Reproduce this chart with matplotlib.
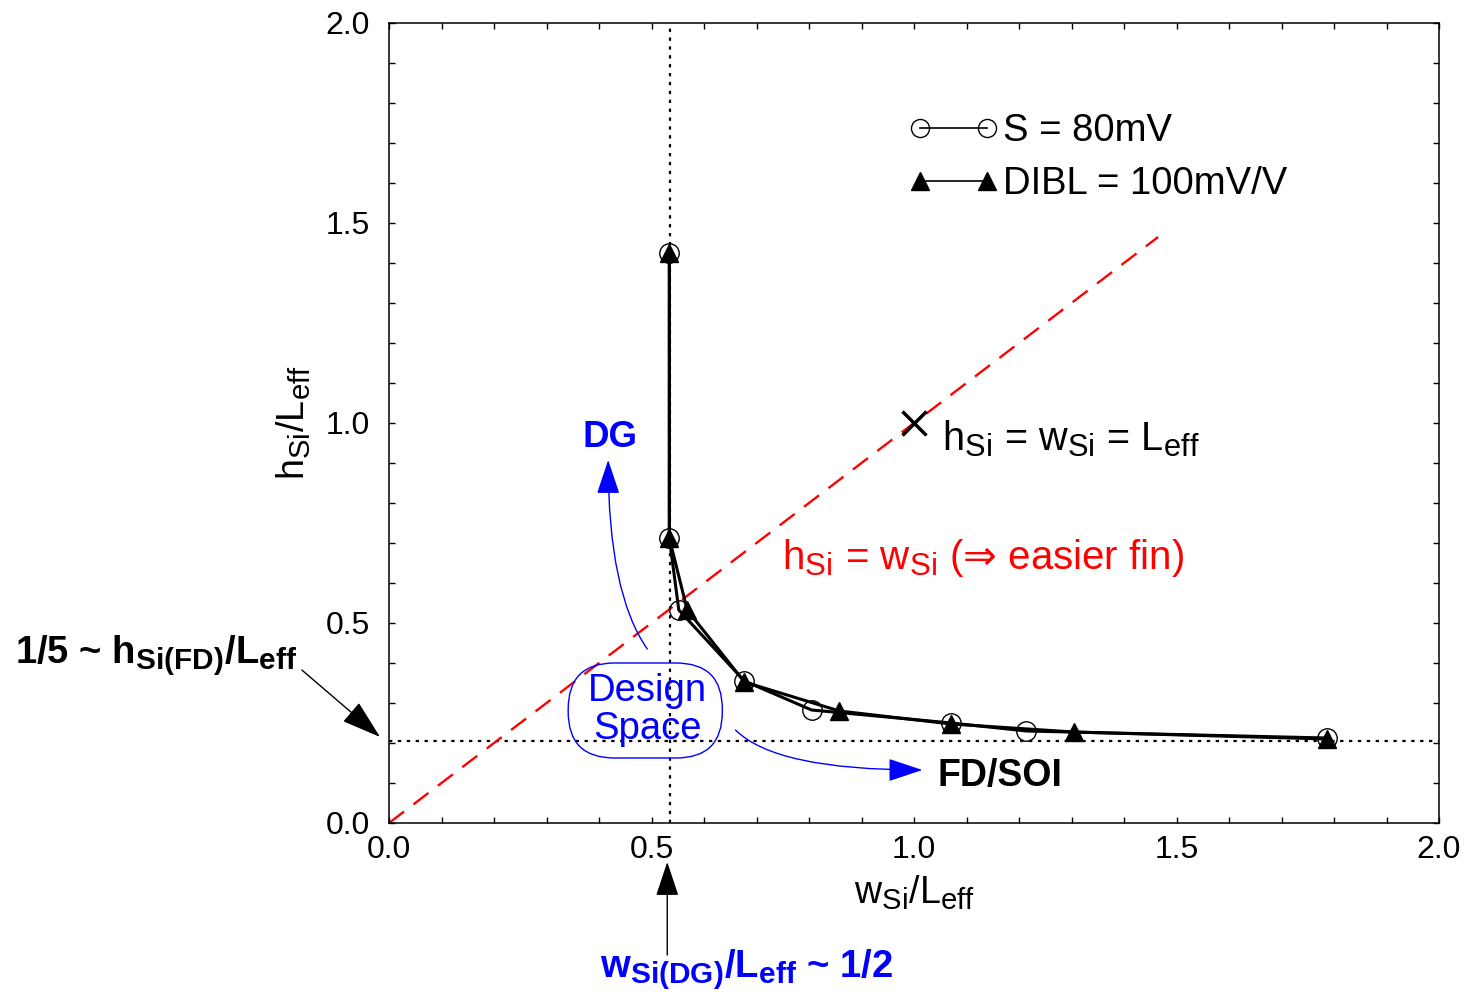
import matplotlib
matplotlib.use("Agg")
import matplotlib.pyplot as plt
import matplotlib._mathtext as _mt
from matplotlib.lines import Line2D
from matplotlib.patches import FancyBboxPatch
from matplotlib.ticker import MultipleLocator, FormatStrFormatter

_mt.SHRINK_FACTOR = 0.78

plt.rcParams['font.family'] = ['Liberation Sans', 'DejaVu Sans']
plt.rcParams['mathtext.fontset'] = 'custom'
plt.rcParams['mathtext.rm'] = 'Liberation Sans'
plt.rcParams['mathtext.it'] = 'Liberation Sans:italic'
plt.rcParams['mathtext.bf'] = 'Liberation Sans:bold'
plt.rcParams['mathtext.sf'] = 'DejaVu Sans'

# ---- data ----
s_x = [0.534, 0.534, 0.552, 0.677, 0.805, 1.071, 1.214, 1.786]
s_y = [1.425, 0.712, 0.5325, 0.355, 0.2825, 0.25, 0.23, 0.2125]
d_x = [0.534, 0.534, 0.568, 0.677, 0.858, 1.071, 1.304, 1.786]
d_y = [1.425, 0.712, 0.5325, 0.3525, 0.28, 0.2475, 0.2275, 0.21]
equal_x = [0.0, 1.465]
equal_y = [0.0, 1.465]
wsi_dg = 0.535
hsi_fd = 0.205
cube_pt = (1.0, 1.0)

fig = plt.figure(figsize=(14.66, 9.94), dpi=100)
ax = fig.add_axes([389/1466, 1-823/994, (1439-389)/1466, 800/994])
ax.set_xlim(0, 2)
ax.set_ylim(0, 2)

# reference lines
ax.axvline(wsi_dg, color='black', lw=1.6, ls=(0, (1.5, 2.5)), zorder=1)
ax.axhline(hsi_fd, color='black', lw=1.6, ls=(0, (1.5, 2.5)), zorder=1)
ax.plot(equal_x, equal_y, color='red', lw=1.7, ls=(0, (8, 5)), zorder=1)

# series
ax.plot(s_x, s_y, color='black', lw=2.2, marker='o', ms=14, mfc='none',
        mec='black', mew=1.0, zorder=3)
ax.plot(d_x, d_y, color='black', lw=2.2, marker='^', ms=13, mfc='black',
        mec='black', zorder=4)
ax.plot([cube_pt[0]], [cube_pt[1]], marker='x', ms=17, mew=2.5, color='black',
        ls='none', zorder=4)

# legend
h1 = Line2D([], [], color='black', lw=1.2, marker='o', ms=13, mfc='none', mew=1.0)
h2 = Line2D([], [], color='black', lw=1.2, marker='^', ms=13, mfc='black')
ax.legend([h1, h2], ['S = 80mV', 'DIBL = 100mV/V'], loc='upper left',
          bbox_to_anchor=(0.495, 0.887), frameon=False, numpoints=2,
          handlelength=2.36, handletextpad=0.12, labelspacing=0.44,
          borderpad=0, borderaxespad=0, fontsize=27.5)

# ticks
ax.xaxis.set_major_locator(MultipleLocator(0.5))
ax.yaxis.set_major_locator(MultipleLocator(0.5))
ax.xaxis.set_minor_locator(MultipleLocator(0.1))
ax.yaxis.set_minor_locator(MultipleLocator(0.1))
ax.tick_params(which='both', direction='in', top=True, right=True,
               length=4.5, width=1.0)
ax.tick_params(axis='x', labelsize=23, pad=9)
ax.tick_params(axis='y', labelsize=23, pad=14)
ax.xaxis.set_major_formatter(FormatStrFormatter('%.1f'))
ax.yaxis.set_major_formatter(FormatStrFormatter('%.1f'))
for sp in ax.spines.values():
    sp.set_linewidth(1.1)

ax.set_xlabel(r'$\mathrm{w_{Si}/L_{eff}}$', fontsize=27, labelpad=6)
ax.set_ylabel(r'$\mathrm{h_{Si}/L_{eff}}$', fontsize=27, labelpad=9)

# texts
ax.text(1.054, 0.932, r'$\mathrm{h_{Si}}$ = $\mathrm{w_{Si}}$ = $\mathrm{L_{eff}}$',
        fontsize=28.5, ha='left', va='baseline')
ax.text(0.749, 0.635, r'$\mathrm{h_{Si}}$ = $\mathrm{w_{Si}}$ ($\mathsf{⇒}$ easier fin)',
        fontsize=29, color='red', ha='left', va='baseline')
ax.text(0.421, 0.94, 'DG', fontsize=26.5, fontweight='bold', color='blue',
        ha='center', va='baseline')
ax.text(1.045, 0.0925, 'FD/SOI', fontsize=27, fontweight='bold', color='black',
        ha='left', va='baseline')
ax.text(0.492, 0.2825, 'Design\nSpace', fontsize=27.5, color='blue', ha='center',
        va='center', linespacing=1.05)
box_x0, box_x1 = 0.3413, 0.6349
box_y0, box_y1 = 0.1625, 0.4
ax.add_patch(FancyBboxPatch((box_x0, box_y0), box_x1 - box_x0, box_y1 - box_y0,
                            boxstyle='round,pad=0,rounding_size=0.088',
                            mutation_aspect=524.5/400, fc='none', ec='blue',
                            lw=1.0, zorder=2))
ax.text(-0.713, 0.3975, r'1/5 ~ $\mathbf{h_{Si(FD)}/L_{eff}}$', fontsize=27.5,
        fontweight='bold', color='black', ha='left', va='baseline', clip_on=False)
ax.text(0.402, -0.3875, r'$\mathbf{w_{Si(DG)}/L_{eff}}$ ~ 1/2', fontsize=27.5,
        fontweight='bold', color='blue', ha='left', va='baseline', clip_on=False)

# arrows
ax.annotate('', xy=(0.4175, 0.9075), xytext=(0.492, 0.435),
            arrowprops=dict(arrowstyle='-|>,head_length=0.6,head_width=0.2',
                            mutation_scale=36, color='blue', lw=1.0,
                            shrinkA=0, shrinkB=0,
                            connectionstyle='angle3,angleA=125,angleB=90'))
ax.annotate('', xy=(1.016, 0.1325), xytext=(0.66, 0.2325),
            arrowprops=dict(arrowstyle='-|>,head_length=0.6,head_width=0.2',
                            mutation_scale=36, color='blue', lw=1.0,
                            shrinkA=0, shrinkB=0,
                            connectionstyle='angle3,angleA=-45,angleB=0'))
ax.annotate('', xy=(-0.017, 0.215), xytext=(-0.166, 0.3825),
            annotation_clip=False,
            arrowprops=dict(arrowstyle='-|>,head_length=0.7,head_width=0.22',
                            mutation_scale=36, color='black', lw=1.0,
                            shrinkA=0, shrinkB=0))
ax.annotate('', xy=(0.53, -0.0975), xytext=(0.53, -0.33),
            annotation_clip=False,
            arrowprops=dict(arrowstyle='-|>,head_length=0.6,head_width=0.2',
                            mutation_scale=36, color='black', lw=1.0,
                            shrinkA=0, shrinkB=0))

fig.savefig('out.png', dpi=100)
